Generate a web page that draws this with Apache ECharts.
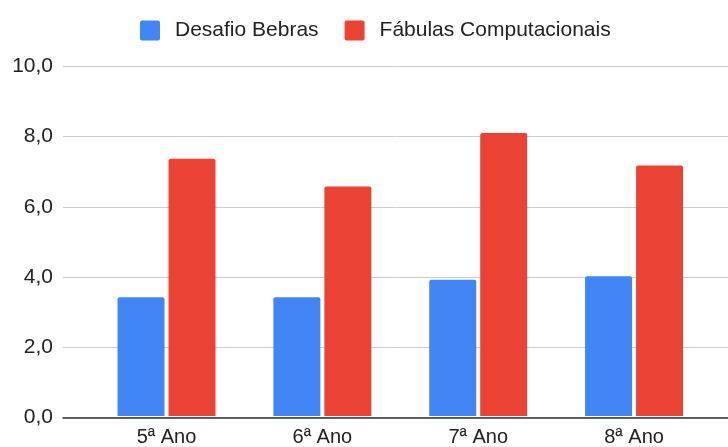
<!DOCTYPE html>
<html>
<head>
<meta charset="utf-8">
<script src="https://cdn.jsdelivr.net/npm/echarts@6/dist/echarts.min.js"></script>
<style>
html,body{margin:0;padding:0;background:#fff;}
#chart{width:728px;height:447px;}
</style>
</head>
<body>
<div id="chart"></div>
<script>
const categories = ['5ª Ano', '6ª Ano', '7ª Ano', '8ª Ano'];
const seriesNames = ['Desafio Bebras', 'Fábulas Computacionais'];
const desafioBebras = [3.4, 3.4, 3.9, 4.0];
const fabulasComputacionais = [7.36, 6.57, 8.1, 7.17];
const yMin = 0, yMax = 10, yInterval = 2;

const font = 'Liberation Sans, Arial, sans-serif';
const textColor = '#222';
const chart = echarts.init(document.getElementById('chart'), null, {renderer: 'canvas'});
chart.setOption({
  animation: false,
  backgroundColor: '#fff',
  legend: {
    top: 20, left: 140, padding: 0,
    itemWidth: 20, itemHeight: 20, itemGap: 26,
    icon: 'path://M2,0 L18,0 Q20,0 20,2 L20,18 Q20,20 18,20 L2,20 Q0,20 0,18 L0,2 Q0,0 2,0 Z',
    textStyle: {fontFamily: font, fontSize: 21, color: textColor, padding: [0, 0, 0, 10]},
    data: seriesNames
  },
  grid: [
    {left: 63, right: 0, top: 66.5, bottom: 29.5, containLabel: false},
    {left: 88.6, right: 16, top: 66.5, bottom: 29.5, containLabel: false}
  ],
  xAxis: [
    {gridIndex: 0, type: 'category', data: categories,
     axisLine: {show: true, lineStyle: {color: '#333', width: 1.5}},
     axisTick: {show: false}, axisLabel: {show: false}, splitLine: {show: false}},
    {gridIndex: 1, type: 'category', data: categories,
     axisLine: {show: false}, axisTick: {show: false},
     axisLabel: {fontFamily: font, fontSize: 20, color: textColor, margin: 11}}
  ],
  yAxis: [
    {gridIndex: 0, type: 'value', min: yMin, max: yMax, interval: yInterval,
     axisLine: {show: false}, axisTick: {show: false},
     axisLabel: {fontFamily: font, fontSize: 21, color: textColor, margin: 10,
       padding: [3, 0, 0, 0],
       formatter: v => v.toFixed(1).replace('.', ',')},
     splitLine: {lineStyle: {color: '#ccc', width: 1}}},
    {gridIndex: 1, type: 'value', min: yMin, max: yMax, interval: yInterval,
     show: false, splitLine: {show: false}}
  ],
  series: [
    {name: seriesNames[0], type: 'bar', xAxisIndex: 1, yAxisIndex: 1,
     data: desafioBebras, barWidth: 47, barGap: '8.5%',
     itemStyle: {color: '#4285F4', borderRadius: [2, 2, 0, 0]}},
    {name: seriesNames[1], type: 'bar', xAxisIndex: 1, yAxisIndex: 1,
     data: fabulasComputacionais, barWidth: 47, barGap: '8.5%',
     itemStyle: {color: '#EA4335', borderRadius: [2, 2, 0, 0]}}
  ]
});
</script>
</body>
</html>
